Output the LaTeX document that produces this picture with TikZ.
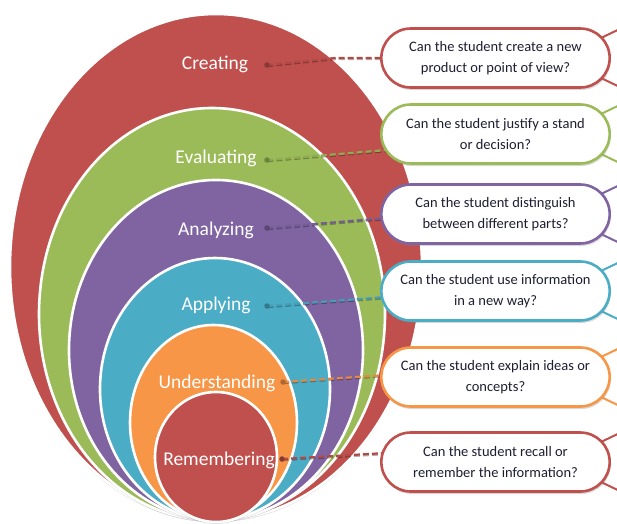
\documentclass[tikz,border=0pt]{standalone}
\usepackage{fontspec}
\setmainfont{Carlito}
\usetikzlibrary{shapes.misc,shadows}

\definecolor{bred}{HTML}{C0504D}
\definecolor{bgreen}{HTML}{9BBB59}
\definecolor{bpurple}{HTML}{8064A2}
\definecolor{bblue}{HTML}{4BACC6}
\definecolor{borange}{HTML}{F79646}
\definecolor{ink}{HTML}{1E1E32}

\pgfdeclarelayer{bg}
\pgfdeclarelayer{links}
\pgfsetlayers{bg,links,main}

\tikzset{
  level/.style={fill=#1, draw=white, line width=2.6pt,
    drop shadow={opacity=0.25, shadow xshift=0pt, shadow yshift=-2pt}},
  lvltext/.style={text=white, font=\fontsize{19.5}{22}\selectfont, anchor=base, inner sep=0pt},
  callout/.style={rounded rectangle, draw=#1, line width=2.6pt, fill=white,
    minimum width=235pt, minimum height=59pt, align=center, text=ink,
    font=\fontsize{14.5}{21.5}\selectfont,
    drop shadow={opacity=0.3, shadow xshift=1pt, shadow yshift=-2.5pt}},
  link/.style={draw=#1!92!black, dash pattern=on 6pt off 3pt, line width=2.2pt,
    preaction={draw=black, draw opacity=0.3, line width=2.4pt,
      dash pattern=on 6pt off 3pt, transform canvas={shift={(0.3pt,-1pt)}}}},
  stub/.style={draw=#1, line width=2pt},
  dot/.style={circle, fill=#1!70!black, inner sep=0pt, minimum size=5.5pt}
}

\begin{document}
\begin{tikzpicture}[x=1pt,y=1pt]
\useasboundingbox (0,0) rectangle (617,523);

% nested levels, outermost first
\begin{pgfonlayer}{bg}
  \fill[white] (0,0) rectangle (617,523);
  \path[level=bred]    (216,256)   ellipse [x radius=206pt, y radius=253pt];
  \path[level=bgreen]  (212,209)   ellipse [x radius=173pt, y radius=206pt];
  \path[level=bpurple] (216,173)   ellipse [x radius=147pt, y radius=170pt];
  \path[level=bblue]   (215,134)   ellipse [x radius=115pt, y radius=131pt];
  \path[level=borange] (213.5,100.5) ellipse [x radius=83.5pt, y radius=97.5pt];
  \path[level=bred]    (216,66)    ellipse [x radius=61pt, y radius=65pt];
\end{pgfonlayer}

% level names
\node[lvltext] (l1) at (215,453) {Creating};
\node[lvltext] (l2) at (216,360) {Evaluating};
\node[lvltext] (l3) at (216,288) {Analyzing};
\node[lvltext] (l4) at (216,213) {Applying};
\node[lvltext] (l5) at (217,135) {Understanding};
\node[lvltext] (l6) at (219,58)  {Remembering};

% connector start dots
\node[dot=bred]    (d1) at (267,458) {};
\node[dot=bgreen]  (d2) at (267,363) {};
\node[dot=bpurple] (d3) at (267,295) {};
\node[dot=bblue]   (d4) at (267,217) {};
\node[dot=borange] (d5) at (283,141) {};
\node[dot=bred]    (d6) at (282,64)  {};

% question callouts
\node[callout=bred]    (c1) at (495.5,465) {Can the student create a new\\product or point of view?};
\node[callout=bgreen]  (c2) at (495.5,389) {Can the student justify a stand\\or decision?};
\node[callout=bpurple] (c3) at (495.5,309) {Can the student distinguish\\between different parts?};
\node[callout=bblue]   (c4) at (495.5,232) {Can the student use information\\in a new way?};
\node[callout=borange] (c5) at (495.5,146) {Can the student explain ideas or\\concepts?};
\node[callout=bred]    (c6) at (495.5,61)  {Can the student recall or\\remember the information?};

\begin{pgfonlayer}{links}
  % dashed links from each level to its question
  \draw[link=bred]    (d1.center) -- (335,465) -- ([xshift=6pt]c1.west);
  \draw[link=bgreen]  (d2.center) -- ([shift={(7pt,-16pt)}]c2.west);
  \draw[link=bpurple] (d3.center) -- ([shift={(6pt,-4pt)}]c3.west);
  \draw[link=bblue]   (d4.center) -- ([shift={(6pt,-6pt)}]c4.west);
  \draw[link=borange] (d5.center) -- ([shift={(6pt,2pt)}]c5.west);
  \draw[link=bred]    (d6.center) -- ([shift={(6pt,9pt)}]c6.west);

  % lines leaving each callout on the right
  \foreach \c/\col in {c1/bred,c2/bgreen,c3/bpurple,c4/bblue,c5/borange,c6/bred}{
    \draw[stub=\col] ([shift={(-10pt,20pt)}]\c.east) -- ++(25pt,12pt);
    \draw[stub=\col] ([shift={(-10pt,-20pt)}]\c.east) -- ++(25pt,-12pt);
  }
\end{pgfonlayer}
\end{tikzpicture}
\end{document}
